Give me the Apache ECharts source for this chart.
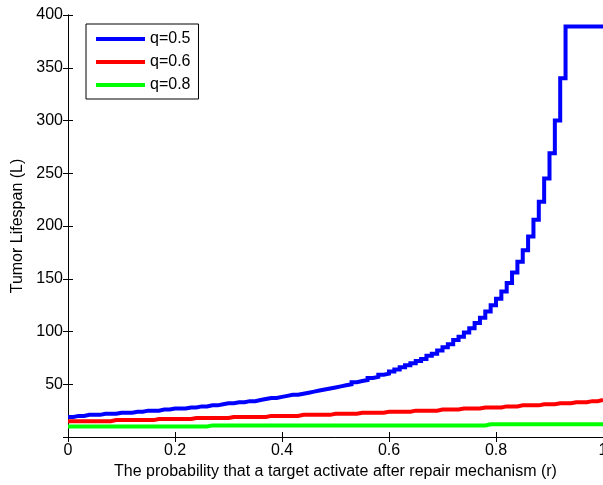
<!DOCTYPE html>
<html>
<head>
<meta charset="utf-8">
<title>Tumor Lifespan vs r</title>
<script src="https://cdn.jsdelivr.net/npm/echarts@6/dist/echarts.min.js"></script>
<style>
  html, body { margin: 0; padding: 0; background: #fff; }
  #chart { width: 603px; height: 485px; }
</style>
</head>
<body>
<div id="chart"></div>
<script>
// Sampling step of r along the x axis (0, 0.01, ..., 1)
const rCount = 101;

// Tumor lifespan L at each sampled r, one array per q
const lifespanQ05 = [
  19, 20, 20, 21, 21, 21, 22, 22, 22, 23,
  23, 23, 24, 24, 25, 25, 25, 26, 26, 27,
  27, 27, 28, 28, 29, 29, 30, 30, 31, 32,
  32, 33, 33, 34, 34, 35, 36, 37, 37, 38,
  39, 40, 40, 41, 42, 43, 44, 45, 46, 47,
  48, 49, 50, 52, 53, 54, 56, 57, 59, 60,
  62, 64, 66, 68, 70, 72, 74, 77, 79, 82,
  85, 88, 92, 95, 99, 103, 108, 113, 119, 125,
  131, 138, 146, 156, 166, 177, 190, 206, 223, 245,
  269, 300, 340, 389, 389, 389, 389, 389, 389, 389,
  389
];
const lifespanQ06 = [
  15, 15, 15, 15, 15, 15, 15, 15, 16, 16,
  16, 16, 16, 16, 16, 16, 17, 17, 17, 17,
  17, 17, 17, 18, 18, 18, 18, 18, 18, 18,
  19, 19, 19, 19, 19, 19, 19, 20, 20, 20,
  20, 20, 20, 21, 21, 21, 21, 21, 21, 22,
  22, 22, 22, 22, 23, 23, 23, 23, 23, 24,
  24, 24, 24, 24, 25, 25, 25, 25, 25, 26,
  26, 26, 26, 27, 27, 27, 27, 28, 28, 28,
  28, 29, 29, 29, 30, 30, 30, 30, 31, 31,
  31, 32, 32, 32, 33, 33, 33, 34, 34, 35,
  35
];
const lifespanQ08 = [
  10, 10, 10, 10, 10, 10, 10, 10, 10, 10,
  10, 10, 10, 10, 10, 10, 10, 10, 10, 10,
  10, 10, 10, 10, 10, 10, 11, 11, 11, 11,
  11, 11, 11, 11, 11, 11, 11, 11, 11, 11,
  11, 11, 11, 11, 11, 11, 11, 11, 11, 11,
  11, 11, 11, 11, 11, 11, 11, 11, 11, 11,
  11, 11, 11, 11, 11, 11, 11, 11, 11, 11,
  11, 11, 11, 11, 11, 11, 11, 11, 12, 12,
  12, 12, 12, 12, 12, 12, 12, 12, 12, 12,
  12, 12, 12, 12, 12, 12, 12, 12, 12, 12,
  12
];

const seriesNames = ['q=0.5', 'q=0.6', 'q=0.8'];
const seriesColors = ['#0000ff', '#ff0000', '#00ff00'];
const seriesValues = [lifespanQ05, lifespanQ06, lifespanQ08];

const xAxisTitle = 'The probability that a target activate after repair mechanism (r)';
const yAxisTitle = 'Tumor Lifespan (L)';

const rValues = [];
for (let i = 0; i < rCount; i++) rValues.push(i / 100);

const fontFamily = '"Liberation Sans", Arial, Helvetica, sans-serif';
const fontSize = 16;

const frameAxis = {
  axisLine: { show: true, lineStyle: { color: '#000', width: 1 } },
  axisTick: { show: true, inside: true, length: 5, lineStyle: { color: '#000' } },
  splitLine: { show: false }
};

const chart = echarts.init(document.getElementById('chart'), null, { renderer: 'canvas' });

chart.setOption({
  animation: false,
  backgroundColor: '#fff',
  textStyle: { fontFamily: fontFamily, color: '#000' },
  grid: { left: 68, right: 0, top: 15, bottom: 48, containLabel: false, outerBoundsMode: 'none' },
  legend: {
    data: seriesNames,
    orient: 'vertical',
    left: 86,
    top: 24,
    icon: 'rect',
    itemWidth: 49,
    itemHeight: 4,
    itemGap: 7,
    itemTextGap: 5,
    padding: [7, 8, 6, 10],
    borderColor: '#000',
    borderWidth: 1,
    backgroundColor: '#fff',
    textStyle: { fontSize: fontSize, lineHeight: 16, color: '#000', fontFamily: fontFamily }
  },
  xAxis: [
    Object.assign({
      type: 'value',
      min: 0,
      max: 1,
      interval: 0.2,
      position: 'bottom',
      name: xAxisTitle,
      nameLocation: 'middle',
      nameGap: 24,
      nameTextStyle: { fontSize: fontSize, color: '#000', fontFamily: fontFamily },
      axisLabel: { fontSize: fontSize, color: '#000', margin: 6, fontFamily: fontFamily }
    }, frameAxis),
    Object.assign({
      type: 'value',
      min: 0,
      max: 1,
      interval: 0.2,
      position: 'top',
      axisLabel: { show: false }
    }, frameAxis)
  ],
  yAxis: [
    Object.assign({
      type: 'value',
      min: 0,
      max: 400,
      interval: 50,
      position: 'left',
      name: yAxisTitle,
      nameLocation: 'middle',
      nameGap: 37,
      nameTextStyle: { fontSize: fontSize, color: '#000', fontFamily: fontFamily },
      axisLabel: { fontSize: fontSize, color: '#000', margin: 5, showMinLabel: false, fontFamily: fontFamily }
    }, frameAxis),
    Object.assign({
      type: 'value',
      min: 0,
      max: 400,
      interval: 50,
      position: 'right',
      axisLabel: { show: false }
    }, frameAxis)
  ],
  series: seriesNames.map(function (name, k) {
    return {
      name: name,
      type: 'line',
      step: 'end',
      xAxisIndex: 0,
      yAxisIndex: 0,
      showSymbol: false,
      symbol: 'none',
      color: seriesColors[k],
      lineStyle: { color: seriesColors[k], width: 4, join: 'miter' },
      data: rValues.map(function (r, i) { return [r, seriesValues[k][i]]; })
    };
  })
});
</script>
</body>
</html>
